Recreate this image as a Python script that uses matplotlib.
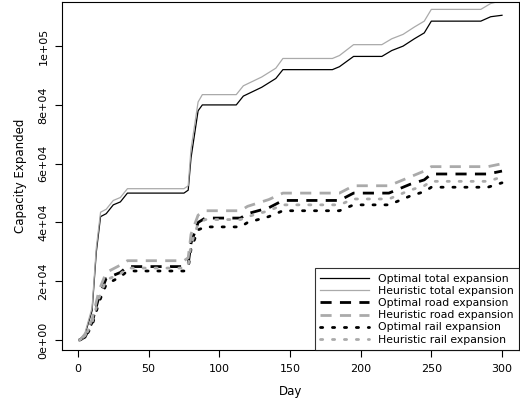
import matplotlib
matplotlib.use("Agg")
import matplotlib.pyplot as plt
import numpy as np

days = [1, 5, 10, 13, 16, 20, 25, 30, 35, 75, 78, 80, 85, 88, 112, 117, 130, 140, 145, 180, 185, 195, 215, 222, 230, 238, 245, 250, 285, 292, 300]
opt_total = [0, 2000, 10000, 30000, 42000, 43000, 46000, 47000, 50000, 50000, 51000, 62000, 78000, 80000, 80000, 83000, 86000, 89000, 92000, 92000, 93000, 96500, 96500, 98500, 100000, 102500, 104500, 108500, 108500, 110000, 110500]
heu_total = [0, 2500, 11000, 31500, 43500, 44500, 47500, 48500, 51500, 51500, 52500, 65000, 81000, 83500, 83500, 86500, 89500, 92500, 95800, 95800, 96800, 100500, 100500, 102500, 104000, 106500, 108500, 112500, 112500, 114500, 115500]
road_days = [1, 5, 10, 15, 20, 30, 35, 75, 78, 80, 85, 90, 115, 120, 135, 145, 185, 195, 220, 235, 245, 250, 290, 300]
opt_road = [0, 1000, 6000, 15000, 21000, 23000, 25000, 25000, 26000, 33000, 40000, 41500, 41500, 43000, 45000, 47500, 47500, 50000, 50000, 53000, 54500, 56500, 56500, 57500]
heu_road = [0, 1500, 7000, 17000, 23000, 25500, 27000, 27000, 28000, 36000, 42500, 44000, 44000, 45500, 47800, 50000, 50000, 52500, 52500, 55500, 57500, 59000, 59000, 60000]
opt_rail = [0, 800, 5000, 13000, 19000, 21500, 23500, 23500, 24500, 31000, 37500, 38500, 38500, 40000, 42000, 44000, 44000, 46000, 46000, 49000, 50500, 52000, 52000, 53500]
heu_rail = [0, 1200, 6000, 14500, 20500, 22500, 24500, 24500, 25500, 32500, 39500, 41000, 41000, 42000, 44000, 46000, 46000, 48000, 48000, 51000, 52500, 54000, 54000, 55500]

fig = plt.figure(figsize=(5.2, 4.08), dpi=100)
ax = fig.add_axes([0.12, 0.142, 0.878, 0.853])
ax.plot(days, opt_total, color="black", lw=0.9, label="Optimal total expansion")
ax.plot(days, heu_total, color="#aaaaaa", lw=0.9, label="Heuristic total expansion")
ax.plot(road_days, opt_road, color="black", lw=2, ls=(0, (4, 3)), label="Optimal road expansion")
ax.plot(road_days, heu_road, color="#aaaaaa", lw=2, ls=(0, (4, 3)), label="Heuristic road expansion")
ax.plot(road_days, opt_rail, color="black", lw=2, ls=(0, (0.8, 3.5)), dash_capstyle="round", label="Optimal rail expansion")
ax.plot(road_days, heu_rail, color="#aaaaaa", lw=2, ls=(0, (0.8, 3.5)), dash_capstyle="round", label="Heuristic rail expansion")
ax.set_xlim(-11, 312)
ax.set_ylim(-3400, 115000)
ax.set_xticks([0, 50, 100, 150, 200, 250, 300])
yt = [0, 20000, 40000, 60000, 80000, 100000]
ax.set_yticks(yt)
ax.set_yticklabels(["0e+00", "2e+04", "4e+04", "6e+04", "8e+04", "1e+05"], rotation=90, va="center")
ax.tick_params(labelsize=8, length=5, pad=5)
ax.set_xlabel("Day", fontsize=8.5, labelpad=8)
ax.set_ylabel("Capacity Expanded", fontsize=8.5, labelpad=8)
leg = ax.legend(loc="lower right", fontsize=7.8, frameon=True, fancybox=False, edgecolor="black",
                borderaxespad=0, handlelength=4.5, labelspacing=0.2, borderpad=0.5)
leg.get_frame().set_linewidth(0.8)
fig.savefig("out.png", dpi=100)
